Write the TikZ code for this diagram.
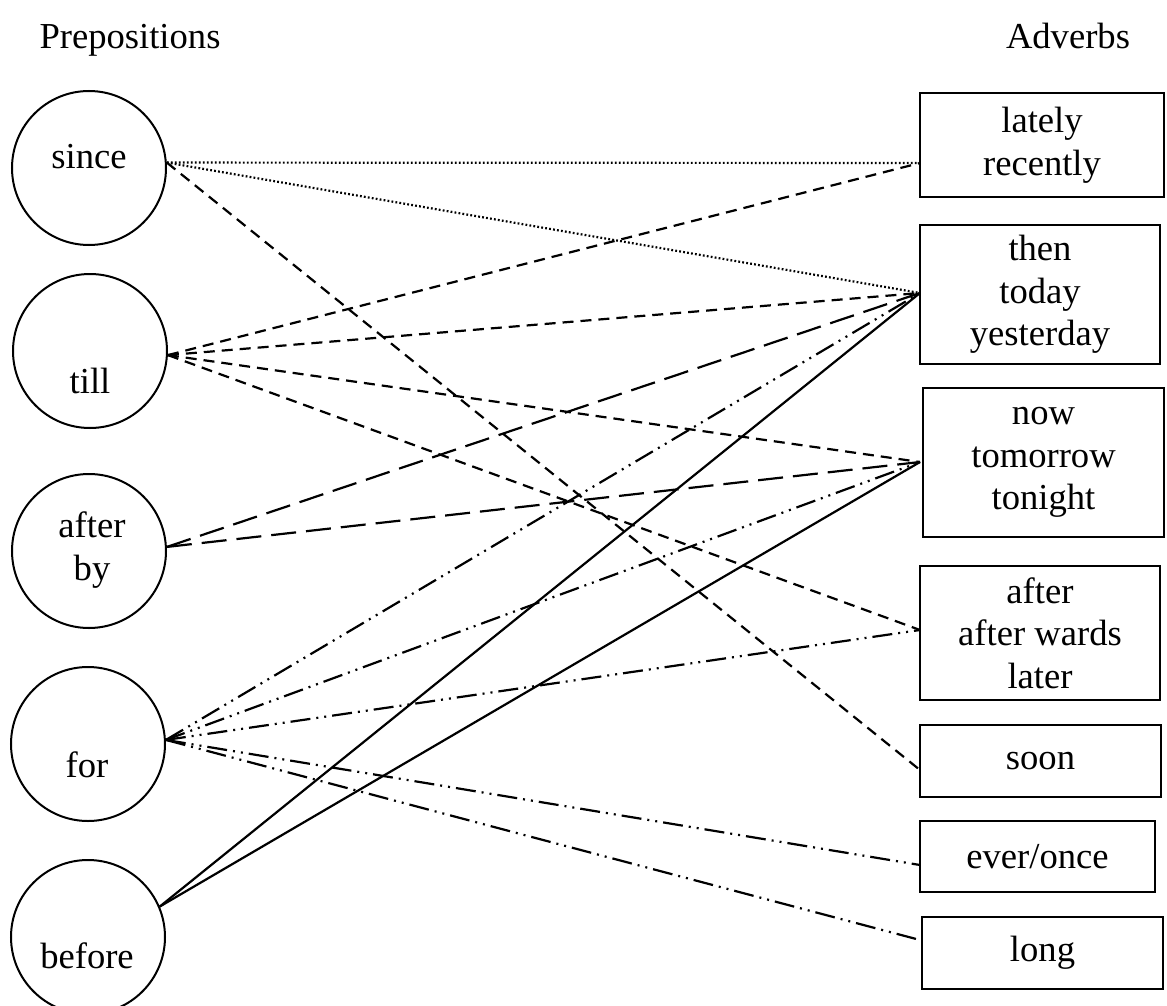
\documentclass[tikz,border=0pt]{standalone}
\usepackage{fontspec}
\setmainfont{Liberation Serif}
\begin{document}
\begin{tikzpicture}[x=0.5pt,y=-0.5pt,
  every node/.style={font=\fontsize{18.3}{21.3}\selectfont},
  prep/.style={circle,draw,line width=1pt,minimum size=77pt,inner sep=0pt},
  adv/.style={rectangle,draw,line width=1pt,inner sep=0pt,align=center},
  lab/.style={inner sep=0pt,anchor=base},
  conn/.style={line width=1.1pt},
  dotline/.style={conn,dash pattern=on 0.9pt off 1.1pt},
  shortdash/.style={conn,dash pattern=on 5.5pt off 3.5pt},
  longdash/.style={conn,dash pattern=on 12.5pt off 5pt},
  dashdots/.style={conn,dash pattern=on 10pt off 3pt on 1pt off 3pt on 1pt off 3pt}]
\useasboundingbox (0,0) rectangle (1167,1006);

% headers
\node[lab] (hprep) at (130,49) {Prepositions};
\node[lab] (hadv) at (1068,49) {Adverbs};

% prepositions
\node[prep] (since) at (89,168) {};
\node[prep] (till) at (90,351) {};
\node[prep] (afterby) at (89,551) {};
\node[prep] (for) at (88,744) {};
\node[prep] (before) at (88,937) {};
\node[lab] (tsince) at (89,169) {since};
\node[lab] (ttill) at (90,393) {till};
\node[inner sep=0pt,align=center] (tafterby) at (92,550) {after\\by};
\node[lab] (tfor) at (87,777) {for};
\node[lab] (tbefore) at (87,968) {before};

% adverbs
\node[adv,minimum width=122pt,minimum height=52pt] (lately) at (1042,145) {lately\\recently};
\node[adv,minimum width=120pt,minimum height=69.5pt] (then) at (1040,294.5) {then\\today\\yesterday};
\node[adv,minimum width=120.5pt,minimum height=74.5pt] (now) at (1043.5,462.5) {now\\tomorrow\\tonight};
\node[adv,minimum width=120pt,minimum height=67pt] (after) at (1040,633) {after\\after wards\\later};
\node[adv,minimum width=120.5pt,minimum height=36pt] (soon) at (1040.5,761) {soon};
\node[adv,minimum width=117.5pt,minimum height=35.5pt] (ever) at (1037.5,856.5) {ever/once};
\node[adv,minimum width=120.5pt,minimum height=36pt] (long) at (1042.5,953) {long};

% connector end points on the boxes' left sides
\coordinate (latelyW) at (920,163);
\coordinate (thenW) at (920,293);
\coordinate (nowW) at (920,462);
\coordinate (afterW) at (920,630);
\coordinate (soonW) at (920,770);
\coordinate (everW) at (920,865);
\coordinate (longW) at (920,940);

% since
\draw[dotline] (since.4) -- (latelyW);
\draw[dotline] (since.4) -- (thenW);
\draw[shortdash] (since.4) -- (soonW);
% till
\draw[shortdash] (till.-3) -- (latelyW);
\draw[shortdash] (till.-3) -- (thenW);
\draw[shortdash] (till.-3) -- (nowW);
\draw[shortdash] (till.-3) -- (afterW);
% after / by
\draw[longdash] (afterby.3) -- (thenW);
\draw[longdash] (afterby.3) -- (nowW);
% for
\draw[dashdots] (for.3) -- (thenW);
\draw[dashdots] (for.3) -- (nowW);
\draw[dashdots] (for.3) -- (afterW);
\draw[dashdots] (for.3) -- (everW);
\draw[dashdots] (for.3) -- (longW);
% before
\draw[conn] (before.23) -- (thenW);
\draw[conn] (before.23) -- (nowW);
\end{tikzpicture}
\end{document}
